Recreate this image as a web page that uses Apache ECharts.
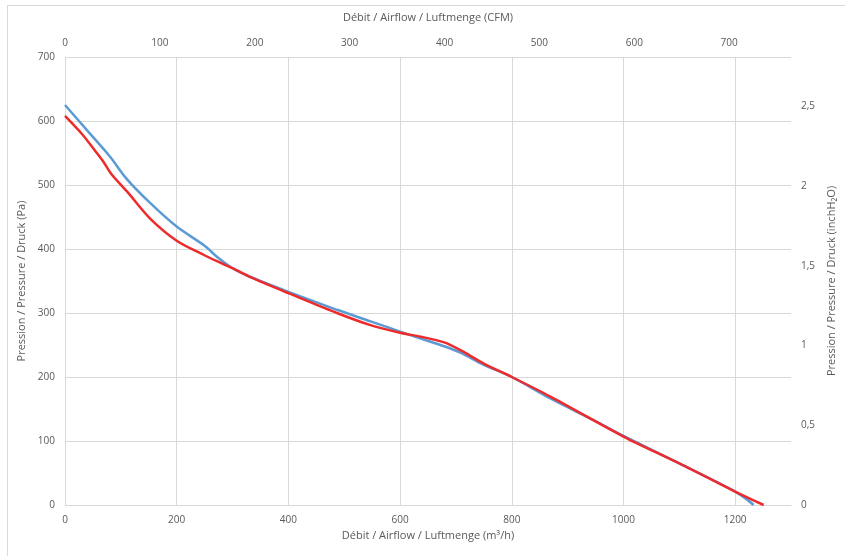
<!DOCTYPE html>
<html>
<head>
<meta charset="utf-8">
<script src="https://cdn.jsdelivr.net/npm/echarts@6/dist/echarts.min.js"></script>
<style>
html,body{margin:0;padding:0;background:#fff;}
#chart{width:845px;height:556px;}
</style>
</head>
<body>
<div id="chart"></div>
<script>
// Airflow (m3/h) vs pressure (Pa)
var blueFlow =     [0, 40, 80, 110, 150, 200, 250, 272, 300, 330, 400, 487, 547, 600, 637, 679, 708, 750, 800, 870, 950, 1000, 1100, 1200, 1222, 1233];
var bluePressure = [625, 585, 545, 510, 474, 435, 405, 388, 370, 357, 333, 305, 287, 271, 260, 248, 238, 219, 200, 166, 131, 108, 65, 21, 8, 0];

var redFlow =      [0, 30, 57, 69, 84, 111, 152, 200, 248, 272, 300, 330, 386, 400, 487, 547, 600, 637, 679, 708, 750, 800, 870, 1000, 1100, 1200, 1251];
var redPressure =  [608, 580, 550, 536, 516, 490, 448, 413, 391, 381, 370, 357, 336, 331, 300, 281, 269, 263, 254, 242, 221, 200, 169, 107, 65, 21, 0];

var flowMax = 1300;            // m3/h
var pressureMax = 700;         // Pa
var cfmPerM3h = 0.5885778;     // unit conversion for secondary axis
var paPerInH2O = 249.089;

var bottomTitle = 'Débit / Airflow / Luftmenge (m³/h)';
var topTitle = 'Débit / Airflow / Luftmenge (CFM)';
var leftTitle = 'Pression / Pressure / Druck (Pa)';
var rightTitle = 'Pression / Pressure / Druck (inchH₂O)';

function pairs(xs, ys){ return xs.map(function(x,i){ return [x, ys[i]]; }); }

var FONT = "'Open Sans', sans-serif";
var TXT = '#595959';
var GRID = '#d9d9d9';

var chart = echarts.init(document.getElementById('chart'), null, {renderer:'canvas'});
chart.setOption({
  animation: false,
  backgroundColor: '#fff',
  textStyle: {fontFamily: FONT},
  graphic: [
    {type:'line', shape:{x1:7, y1:5.5, x2:845, y2:5.5}, style:{stroke:GRID, lineWidth:1}, silent:true},
    {type:'line', shape:{x1:7.5, y1:5, x2:7.5, y2:556}, style:{stroke:GRID, lineWidth:1}, silent:true}
  ],
  grid: {left: 65, right: 54, top: 57, bottom: 51, containLabel: false},
  xAxis: [
    {
      type:'value', position:'bottom', min:0, max:flowMax, interval:200,
      name: bottomTitle, nameLocation:'middle', nameGap:25,
      nameTextStyle:{color:TXT, fontSize:11, fontFamily:FONT},
      axisLine:{show:true, lineStyle:{color:GRID, width:1}},
      axisTick:{show:false},
      axisLabel:{color:TXT, fontSize:10, margin:10, fontFamily:FONT, showMaxLabel:false,
        formatter:function(v){ return String(v); }},
      splitLine:{show:true, showMaxLine:false, lineStyle:{color:GRID, width:1}}
    },
    {
      type:'value', position:'top', min:0, max:flowMax*cfmPerM3h, interval:100,
      name: topTitle, nameLocation:'middle', nameGap:34,
      nameTextStyle:{color:TXT, fontSize:11, fontFamily:FONT},
      axisLine:{show:false}, axisTick:{show:false},
      axisLabel:{color:TXT, fontSize:10, margin:9, fontFamily:FONT, showMaxLabel:false,
        formatter:function(v){ return String(v); }},
      splitLine:{show:false}
    }
  ],
  yAxis: [
    {
      type:'value', position:'left', min:0, max:pressureMax, interval:100,
      name: leftTitle, nameLocation:'middle', nameGap:28, nameRotate:90,
      nameTextStyle:{color:TXT, fontSize:11, fontFamily:FONT},
      axisLine:{show:false}, axisTick:{show:false},
      axisLabel:{color:TXT, fontSize:10, margin:10, fontFamily:FONT},
      splitLine:{show:true, lineStyle:{color:GRID, width:1}}
    },
    {
      type:'value', position:'right', min:0, max:pressureMax/paPerInH2O, interval:0.5,
      name: rightTitle, nameLocation:'middle', nameGap:32, nameRotate:90,
      nameTextStyle:{color:TXT, fontSize:11, fontFamily:FONT},
      axisLine:{show:false}, axisTick:{show:false},
      axisLabel:{color:TXT, fontSize:10, margin:10, fontFamily:FONT, showMaxLabel:false,
        formatter:function(v){ return String(v).replace('.', ','); }},
      splitLine:{show:false}
    }
  ],
  series: [
    {
      type:'line', xAxisIndex:0, yAxisIndex:0, data: pairs(blueFlow, bluePressure),
      smooth:0.3, showSymbol:false, symbol:'none',
      lineStyle:{color:'#5b9bd5', width:2.5}, z:2
    },
    {
      type:'line', xAxisIndex:0, yAxisIndex:0, data: pairs(redFlow, redPressure),
      smooth:0.3, showSymbol:false, symbol:'none',
      lineStyle:{color:'#ee2a2a', width:2.5}, z:3
    }
  ]
});
</script>
</body>
</html>
